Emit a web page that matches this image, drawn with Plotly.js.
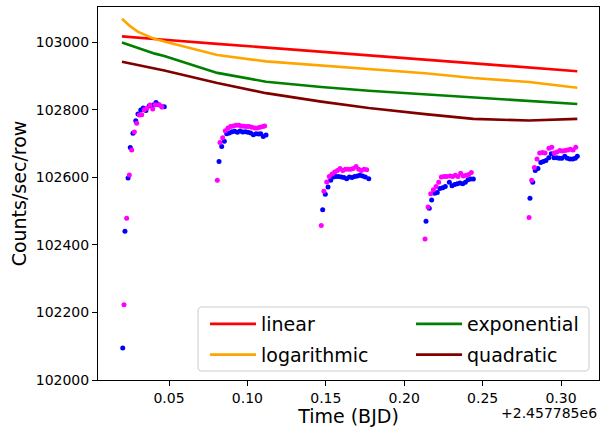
<!DOCTYPE html>
<html>
<head>
<meta charset="utf-8">
<script src="https://cdn.plot.ly/plotly-3.0.1.min.js"></script>
<style>
  html, body { margin: 0; padding: 0; background: #ffffff; }
  #chart { width: 610px; height: 427px; }
</style>
</head>
<body>
<div id="chart"></div>
<script>
// Time offsets from BJD 2457785 (days), forward-scan (blue) photometry
const blueTime = [
  0.0205,0.0219,0.0239,0.0253,0.0270,0.0288,0.0302,0.0320,0.0336,0.0353,0.0374,0.0400,0.0417,0.0434,0.0455,0.0470,
  0.0819,0.0836,0.0853,0.0868,0.0885,0.0902,0.0919,0.0936,0.0953,0.0970,0.0987,0.1004,0.1021,0.1038,0.1055,0.1072,0.1085,0.1101,0.1119,
  0.1480,0.1497,0.1514,0.1531,0.1548,0.1565,0.1582,0.1599,0.1616,0.1633,0.1650,0.1667,0.1684,0.1701,0.1718,0.1735,0.1752,0.1774,
  0.2139,0.2160,0.2175,0.2195,0.2211,0.2228,0.2246,0.2262,0.2288,0.2305,0.2322,0.2339,0.2356,0.2373,0.2390,0.2407,0.2424,0.2441,
  0.2802,0.2820,0.2836,0.2853,0.2871,0.2887,0.2904,0.2922,0.2938,0.2955,0.2973,0.2989,0.3006,0.3024,0.3040,0.3057,0.3075,0.3091,0.3104
];
const blueFlux = [
  102095,102440,102598,102688,102730,102767,102787,102799,102805,102798,102812,102814,102821,102815,102809,102809,
  102647,102691,102707,102729,102731,102735,102736,102733,102737,102734,102735,102733,102731,102726,102729,102728,102729,102721,102725,
  102504,102550,102571,102591,102601,102602,102602,102601,102599,102596,102601,102599,102602,102604,102606,102604,102601,102596,
  102470,102508,102533,102553,102555,102567,102569,102573,102585,102575,102579,102581,102583,102581,102585,102593,102595,102595,
  102538,102585,102620,102626,102644,102647,102650,102658,102670,102658,102658,102656,102656,102662,102656,102654,102654,102656,102662
];

// Reverse-scan (magenta) photometry
const magentaTime = [
  0.0213,0.0230,0.0247,0.0262,0.0279,0.0294,0.0311,0.0326,0.0342,0.0358,0.0379,0.0396,0.0413,0.0438,0.0455,
  0.0808,0.0825,0.0842,0.0859,0.0876,0.0893,0.0910,0.0927,0.0945,0.0961,0.0978,0.0996,0.1012,0.1029,0.1047,0.1063,0.1080,0.1098,0.1110,
  0.1471,0.1488,0.1506,0.1522,0.1540,0.1557,0.1574,0.1591,0.1608,0.1624,0.1642,0.1659,0.1675,0.1693,0.1710,0.1726,0.1744,0.1761,
  0.2133,0.2152,0.2169,0.2186,0.2203,0.2220,0.2237,0.2254,0.2271,0.2292,0.2309,0.2326,0.2343,0.2360,0.2377,0.2394,0.2411,0.2428,
  0.2796,0.2813,0.2830,0.2847,0.2864,0.2881,0.2898,0.2923,0.2941,0.2957,0.2974,0.2992,0.3008,0.3026,0.3043,0.3059,0.3077,0.3094
];
const magentaFlux = [
  102223,102479,102607,102681,102734,102760,102784,102785,102800,102804,102814,102802,102815,102815,102808,
  102591,102703,102717,102738,102746,102750,102752,102754,102754,102752,102751,102750,102750,102748,102746,102746,102748,102750,102752,
  102457,102559,102586,102602,102610,102616,102620,102626,102620,102624,102624,102624,102626,102632,102624,102620,102624,102622,
  102417,102512,102551,102563,102573,102585,102601,102602,102602,102604,102602,102606,102602,102612,102604,102606,102608,102614,
  102481,102591,102629,102654,102672,102673,102672,102686,102689,102672,102675,102679,102678,102679,102681,102683,102681,102689
];

// Ramp-model baselines evaluated at orbit boundaries
const modelTime   = [0.0200,0.0250,0.0300,0.0360,0.0410,0.0470,0.0808,0.1119,0.1471,0.1774,0.2133,0.2441,0.2796,0.3104];
const linearFit   = [103017,103015,103014,103011,103010,103007,102995,102984,102972,102961,102948,102938,102925,102914];
const logFit      = [103069,103048,103031,103018,103009,103002,102962,102943,102931,102921,102908,102894,102882,102865];
const expFit      = [102999,102991,102983,102974,102966,102959,102909,102883,102867,102856,102846,102836,102827,102817];
const quadFit     = [102942,102937,102932,102926,102921,102916,102879,102849,102824,102805,102787,102773,102768,102773];

const xTicks = [0.05, 0.10, 0.15, 0.20, 0.25, 0.30];
const xTickText = ['0.05', '0.10', '0.15', '0.20', '0.25', '0.30'];
const yTicks = [102000, 102200, 102400, 102600, 102800, 103000];
const timeOffsetLabel = '+2.457785e6';

const FONT = 'DejaVu Sans, Liberation Sans, sans-serif';

function modelLine(name, y, color, legendId) {
  return {
    type: 'scatter', mode: 'lines', name: name,
    x: modelTime, y: y,
    line: { color: color, width: 2.6 },
    legend: legendId, legendgroup: name, hoverinfo: 'skip'
  };
}

const traces = [
  { type: 'scatter', mode: 'markers', x: blueTime, y: blueFlux, showlegend: false,
    marker: { color: '#0000ff', size: 5 }, hoverinfo: 'skip' },
  { type: 'scatter', mode: 'markers', x: magentaTime, y: magentaFlux, showlegend: false,
    marker: { color: '#ff00ff', size: 5 }, hoverinfo: 'skip' },
  modelLine('linear', linearFit, '#ff0000', 'legend'),
  modelLine('logarithmic', logFit, '#ffa500', 'legend'),
  modelLine('exponential', expFit, '#008000', 'legend2'),
  modelLine('quadratic', quadFit, '#800000', 'legend2')
];

const axisCommon = {
  showline: true, linecolor: '#000000', linewidth: 1, mirror: true,
  ticks: 'outside', ticklen: 5, tickwidth: 1, tickcolor: '#000000',
  showgrid: false, zeroline: false, automargin: false,
  tickfont: { family: FONT, size: 14, color: '#000000' }
};

// legend column settings (two columns sharing one framed box)
const legendColumn = {
  orientation: 'v', xanchor: 'left', yanchor: 'top', y: 0.2010,
  bgcolor: 'rgba(0,0,0,0)', borderwidth: 0, itemwidth: 46, tracegroupgap: 3,
  font: { family: FONT, size: 19, color: '#000000' }
};

// rounded legend frame, in paper coordinates
const fx0 = 0.1996, fx1 = 0.9800, fy0 = 0.0241, fy1 = 0.1957, rx = 0.008, ry = 0.0107;
const framePath =
  `M${fx0 + rx},${fy1} L${fx1 - rx},${fy1} Q${fx1},${fy1} ${fx1},${fy1 - ry} ` +
  `L${fx1},${fy0 + ry} Q${fx1},${fy0} ${fx1 - rx},${fy0} L${fx0 + rx},${fy0} ` +
  `Q${fx0},${fy0} ${fx0},${fy0 + ry} L${fx0},${fy1 - ry} Q${fx0},${fy1} ${fx0 + rx},${fy1} Z`;

const layout = {
  width: 610, height: 427,
  margin: { l: 98, r: 11, t: 7, b: 47 },
  paper_bgcolor: '#ffffff', plot_bgcolor: '#ffffff',
  font: { family: FONT, color: '#000000' },
  xaxis: Object.assign({}, axisCommon, {
    range: [0.00472, 0.32423],
    tickvals: xTicks, ticktext: xTickText,
    title: { text: 'Time (BJD)', font: { family: FONT, size: 19 }, standoff: 0 }
  }),
  yaxis: Object.assign({}, axisCommon, {
    range: [102000, 103104],
    tickvals: yTicks, ticktext: yTicks.map(String),
    title: { text: 'Counts/sec/row', font: { family: FONT, size: 19 }, standoff: 4 }
  }),
  legend: Object.assign({}, legendColumn, { x: 0.2136 }),
  legend2: Object.assign({}, legendColumn, { x: 0.6248 }),
  shapes: [{
    type: 'path', xref: 'paper', yref: 'paper', path: framePath, layer: 'above',
    fillcolor: 'rgba(255,255,255,0.8)', line: { color: '#cccccc', width: 1 }
  }],
  annotations: [{
    text: timeOffsetLabel, xref: 'paper', yref: 'paper', x: 1, y: -0.062,
    xanchor: 'right', yanchor: 'top', showarrow: false,
    font: { family: FONT, size: 14, color: '#000000' }
  }],
  showlegend: true
};

Plotly.newPlot('chart', traces, layout, { staticPlot: true, displayModeBar: false });
</script>
</body>
</html>
